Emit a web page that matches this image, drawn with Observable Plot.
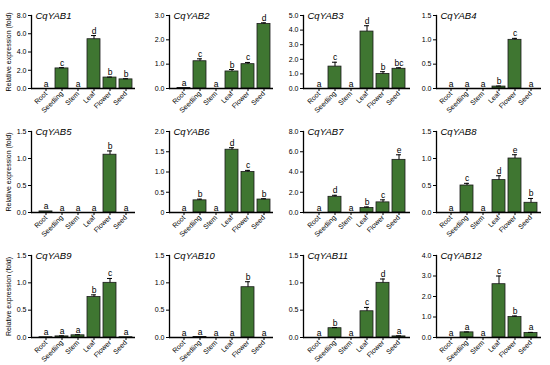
<!DOCTYPE html>
<html><head><meta charset="utf-8">
<script src="https://cdn.jsdelivr.net/npm/d3@7"></script>
<script src="https://cdn.jsdelivr.net/npm/@observablehq/plot@0.6"></script>
<style>
body{margin:0;background:#fff;}
#chart{position:relative;width:550px;height:365px;overflow:hidden;background:#fff;}
#chart svg{position:absolute;}
</style></head><body><div id="chart"></div>
<script>
const categories = ["Root","Seedling","Stem","Leaf","Flower","Seed"];
const genes = ["CqYAB1","CqYAB2","CqYAB3","CqYAB4","CqYAB5","CqYAB6","CqYAB7","CqYAB8","CqYAB9","CqYAB10","CqYAB11","CqYAB12"];
const yMax  = [8, 3, 5, 1.5, 1.5, 2, 8, 1.5, 1.5, 1.5, 1.5, 4];
const yStep = [2, 1, 1, 0.5, 0.5, 0.5, 2, 0.5, 0.5, 0.5, 0.5, 1];
const means = [
  [0, 2.2, 0, 5.4, 1.2, 1.0],
  [0.02, 1.12, 0, 0.7, 1.0, 2.65],
  [0, 1.5, 0, 3.9, 1.0, 1.35],
  [0, 0, 0, 0.04, 1.0, 0],
  [0.02, 0, 0, 0, 1.07, 0],
  [0, 0.3, 0, 1.55, 1.0, 0.32],
  [0, 1.55, 0, 0.45, 1.0, 5.2],
  [0, 0.5, 0, 0.6, 1.0, 0.18],
  [0.005, 0.02, 0.04, 0.74, 1.0, 0.005],
  [0, 0.01, 0, 0, 0.92, 0],
  [0, 0.17, 0, 0.48, 1.0, 0.02],
  [0, 0.25, 0, 2.6, 1.0, 0.22]
];
const errors = [
  [0, 0.08, 0, 0.4, 0.05, 0.07],
  [0, 0.1, 0, 0.08, 0.07, 0.05],
  [0, 0.3, 0, 0.4, 0.15, 0.07],
  [0, 0, 0, 0.01, 0.03, 0],
  [0, 0, 0, 0, 0.07, 0],
  [0, 0.03, 0, 0.05, 0.04, 0.02],
  [0, 0.15, 0, 0.1, 0.25, 0.5],
  [0, 0.04, 0, 0.08, 0.07, 0.08],
  [0, 0.01, 0.01, 0.04, 0.08, 0],
  [0, 0, 0, 0, 0.1, 0],
  [0, 0.01, 0, 0.07, 0.07, 0.01],
  [0, 0.02, 0, 0.4, 0.05, 0.03]
];
const letters = [
  ["a","c","a","d","b","b"],
  ["a","c","a","b","c","d"],
  ["a","c","a","d","b","bc"],
  ["a","a","a","b","c","a"],
  ["a","a","a","a","b","a"],
  ["a","b","a","d","c","b"],
  ["a","d","a","b","c","e"],
  ["a","c","a","d","e","b"],
  ["a","a","a","b","c","a"],
  ["a","a","a","a","b","a"],
  ["a","b","a","c","d","a"],
  ["a","a","a","c","b","a"]
];

// layout (pixels)
const colAxisX = [31, 169, 303, 436];
const colEndX = [135, 273, 410, 541];
const rowTopY = [15, 131, 255];
const rowBottomY = [88, 212, 337];
const green = "#3f7631";
const font = '"Liberation Sans", Arial, sans-serif';

const chart = document.getElementById("chart");
genes.forEach((gene, i) => {
  const r = Math.floor(i / 4), c = i % 4;
  const mL = 31, mR = 6, mT = 12, mB = 30;
  const W = colEndX[c] - colAxisX[c];
  const H = rowBottomY[r] - rowTopY[r];
  const rows = categories.map((cat, k) => ({cat, v: means[i][k], e: errors[i][k], l: letters[i][k]}));
  const errRows = rows.filter(d => d.e > 0);
  const ticks = d3.range(0, yMax[i] + 1e-9, yStep[i]);
  const fmt = d => (d === 0 && gene === "CqYAB6") ? "0" : d.toFixed(1);
  const svg = Plot.plot({
    width: mL + W + mR,
    height: mT + H + mB,
    marginLeft: mL, marginRight: mR, marginTop: mT, marginBottom: mB,
    style: {background: "transparent", overflow: "visible", fontFamily: font, color: "#000"},
    x: {domain: categories, insetLeft: 5, paddingInner: 0.16, paddingOuter: 0.1, label: null},
    y: {domain: [0, yMax[i]], label: null},
    marks: [
      Plot.barY(rows, {x: "cat", y: "v", fill: green, stroke: "#1a1a1a", strokeWidth: 0.8}),
      Plot.ruleX(errRows, {x: "cat", y1: "v", y2: d => d.v + d.e, stroke: "#000", strokeWidth: 1}),
      Plot.tickY(errRows, {x: "cat", y: d => d.v + d.e, stroke: "#000", strokeWidth: 1, insetLeft: 4, insetRight: 4}),
      Plot.text(rows, {x: "cat", y: d => d.v + d.e, text: "l", dy: -2, lineAnchor: "bottom", fontSize: 8.5, fill: "#000"}),
      Plot.axisY({ticks, tickFormat: fmt, tickSize: 3, tickPadding: 2, fontSize: 7,
        label: c === 0 ? "Relative expression (fold)" : null, labelAnchor: "center", labelArrow: "none", labelOffset: 25}),
      Plot.axisX({tickRotate: -45, tickSize: 3, tickPadding: 1, fontSize: 7, label: null}),
      Plot.ruleY([0], {stroke: "#000", strokeWidth: 1.3}),
      Plot.frame({anchor: "left", stroke: "#000", strokeWidth: 1.3}),
      Plot.text([gene], {frameAnchor: "top-left", dx: 4, lineAnchor: "middle", textAnchor: "start", fontStyle: "italic", fontSize: 9.5, fill: "#000"})
    ]
  });
  svg.style.left = (colAxisX[c] - mL) + "px";
  svg.style.top = (rowTopY[r] - mT) + "px";
  chart.appendChild(svg);
});
</script>
</body></html>
